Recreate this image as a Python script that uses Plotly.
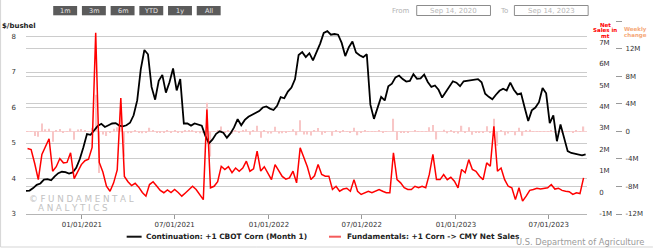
import pandas as pd
import plotly.graph_objects as go

# ---------------- data ----------------
price_dates = pd.date_range("2020-09-14", periods=157, freq="7D")
corn_price = [3.65, 3.66, 3.73, 3.82, 3.86, 3.97, 3.98, 3.95, 4.06, 4.15,
              4.19, 4.18, 4.14, 4.17, 4.30, 4.55, 4.88, 5.25, 5.23, 5.36,
              5.48, 5.54, 5.45, 5.50, 5.55, 5.56, 5.49, 5.47, 5.50, 5.57,
              5.78, 6.20, 7.08, 7.62, 7.50, 6.58, 6.22, 6.75, 6.92, 6.42,
              6.71, 7.10, 6.48, 6.80, 5.55, 5.55, 5.49, 5.55, 5.52, 5.49,
              5.20, 4.99, 5.10, 5.26, 5.33, 5.29, 5.15, 5.27, 5.44, 5.67,
              5.50, 5.65, 5.74, 5.79, 5.85, 5.90, 6.00, 6.03, 5.97, 5.93,
              6.05, 6.29, 6.26, 6.45, 6.56, 6.80, 7.48, 7.56, 7.42, 7.53,
              7.33, 7.55, 7.80, 8.10, 8.15, 8.05, 8.07, 8.05, 7.82, 7.45,
              7.70, 7.86, 7.55, 7.47, 7.42, 7.50, 6.08, 5.68, 5.98, 6.30,
              6.20, 6.60, 6.67, 6.85, 6.90, 6.80, 6.73, 6.75, 6.94, 6.81,
              6.82, 6.93, 6.72, 6.58, 6.62, 6.50, 6.28, 6.44, 6.57, 6.74,
              6.70, 6.60, 6.74, 6.75, 6.78, 6.77, 6.80, 6.71, 6.39, 6.30,
              6.23, 6.36, 6.47, 6.53, 6.48, 6.70, 6.50, 6.37, 6.40, 6.00,
              5.62, 5.92, 6.00, 6.15, 6.55, 6.40, 5.56, 5.78, 5.05, 5.52,
              5.10, 4.77, 4.72, 4.70, 4.67, 4.65, 4.68]

sales_dates = pd.date_range("2020-09-17", periods=156, freq="7D")
net_sales_m = [2.05, 2.0, 1.35, 0.60, 1.77, 2.1, 2.5, 0.99, 1.2, 1.58,
               1.38, 1.40, 1.85, 0.65, 0.95, 1.3, 1.48, 1.55, 2.1, 7.43,
               1.4, 0.95, 0.29, 0.06, 0.45, 1.05, 4.40, 0.75, 0.5, 0.32,
               0.43, 0.25, 0.0, -0.17, 0.37, 0.5, 0.3, 0.1, -0.01, 0.12,
               0.0, 0.14, 0.0, -0.17, -0.02, 0.15, 0.29, 0.14, -0.1, -0.33,
               3.86, 0.22, 0.29, 0.5, 1.22, 1.07, 1.2, 0.92, 1.14, 0.99,
               1.14, 1.46, 0.99, 1.1, 1.92, 1.0, 1.2, 0.9, 0.6, 1.3,
               1.0, 0.75, 0.62, 0.68, 0.99, 0.45, 2.08, 1.65, 1.2, 0.60,
               0.78, 1.30, 0.84, 0.76, 0.76, 0.14, 0.29, 0.06, 0.16, 0.2,
               0.06, 0.60, 0.06, -0.09, -0.01, 0.06, -0.01, 0.06, 0.14, 0.06,
               -0.01, -0.01, 1.85, 0.60, 0.45, 0.22, 0.14, 0.14, 0.29, 0.22,
               0.29, 0.22, 0.84, 1.77, 0.60, 0.60, 0.84, 0.60, 0.71, 0.53,
               0.22, 1.07, 0.92, 1.53, 1.07, 0.99, 0.76, 0.60, 1.38, 1.22,
               3.08, 0.99, 1.14, 0.60, 0.29, 0.22, -0.33, 0.22, -0.40, -0.17,
               0.1, 0.14, 0.2, 0.16, 0.18, 0.22, 0.37, 0.16, 0.2, 0.1,
               0.06, 0.04, -0.09, -0.01, -0.05, 0.68]

weekly_change_m = [-0.05, -0.05, -0.65, -0.75, 1.17, 0.33, 0.4, -1.51, 0.21, 0.38,
                   -0.2, 0.02, 0.45, -1.2, 0.3, 0.35, 0.18, 0.07, 0.55, 5.33,
                   -6.03, -0.45, -0.66, -0.23, 0.39, 0.6, 3.35, -3.65, -0.25, -0.18,
                   0.11, -0.18, -0.25, -0.17, 0.54, 0.13, -0.2, -0.2, -0.11, 0.13,
                   -0.12, 0.14, -0.14, -0.17, 0.15, 0.17, 0.14, -0.15, -0.24, -0.23,
                   4.19, -3.64, 0.07, 0.21, 0.72, -0.15, 0.13, -0.28, 0.22, -0.15,
                   0.15, 0.32, -0.47, 0.11, 0.82, -0.92, 0.2, -0.3, -0.3, 0.7,
                   -0.3, -0.25, -0.13, 0.06, 0.31, -0.54, 1.63, -0.43, -0.45, -0.6,
                   0.18, 0.52, -0.46, -0.08, 0.0, -0.62, 0.15, -0.23, 0.1, 0.04,
                   -0.14, 0.54, -0.54, -0.15, 0.08, 0.07, -0.07, 0.07, 0.08, -0.08,
                   -0.07, 0.0, 1.86, -1.25, -0.15, -0.23, -0.08, 0.0, 0.15, -0.07,
                   0.07, -0.07, 0.62, 0.93, -1.17, 0.0, 0.24, -0.24, 0.11, -0.18,
                   -0.31, 0.85, -0.15, 0.61, -0.46, -0.08, -0.23, -0.16, 0.78, -0.16,
                   1.86, -2.09, 0.15, -0.54, -0.31, -0.07, -0.55, 0.55, -0.62, 0.23,
                   0.27, 0.04, 0.06, -0.04, 0.02, 0.04, 0.15, -0.21, 0.04, -0.1,
                   -0.04, -0.02, -0.13, 0.08, -0.04, 0.73]

x_tick_dates = ["2021-01-01", "2021-07-01", "2022-01-01", "2022-07-01", "2023-01-01", "2023-07-01"]
x_tick_labels = ["01/01/2021", "07/01/2021", "01/01/2022", "07/01/2022", "01/01/2023", "07/01/2023"]
price_ticks = [3, 4, 5, 6, 7, 8]
sales_ticks = [-1, 0, 1, 2, 3, 4, 5, 6, 7]
sales_labels = ["-1M", "0", "1M", "2M", "3M", "4M", "5M", "6M", "7M"]
change_ticks = [-12, -8, -4, 0, 4, 8, 12, 16]
change_labels = ["-12M", "-8M", "-4M", "0", "4M", "8M", "12M", ""]
range_buttons = ["1m", "3m", "6m", "YTD", "1y", "All"]
date_from, date_to = "Sep 14, 2020", "Sep 14, 2023"

# ---------------- layout helpers ----------------
W, H = 655, 248
L, R, T, B = 26, 20, 21, 34
PW, PH = W - L - R, H - T - B
FONT = "DejaVu Sans, Verdana, sans-serif"


def px(x):
    return (x - L) / PW


def py(y):
    return (H - B - y) / PH


fig = go.Figure()
fig.add_trace(go.Bar(x=sales_dates, y=weekly_change_m, yaxis="y", xaxis="x",
                     marker=dict(color="#f8c6c6", line=dict(width=0)),
                     width=2.4 * 86400000, showlegend=False, hoverinfo="skip"))
fig.add_trace(go.Scatter(x=price_dates, y=corn_price, yaxis="y2", mode="lines",
                         line=dict(color="#000000", width=1.8), showlegend=False))
fig.add_trace(go.Scatter(x=sales_dates, y=net_sales_m, yaxis="y3", mode="lines",
                         line=dict(color="#ff0000", width=1.5), showlegend=False))

tick_font = dict(family=FONT, size=7, color="#333333")
fig.update_layout(
    width=W, height=H, margin=dict(l=L, r=R, t=T, b=B),
    paper_bgcolor="white", plot_bgcolor="white",
    font=dict(family=FONT),
    xaxis=dict(type="date", domain=[0, px(589)], range=["2020-09-14", "2023-09-14"],
               tickvals=x_tick_dates, ticktext=x_tick_labels, ticks="outside", ticklen=4,
               tickcolor="#999999", showline=True, linecolor="#b5b5b5", showgrid=False,
               zeroline=False, tickfont=tick_font),
    yaxis=dict(range=[-12, 16.07], tickvals=change_ticks, ticktext=change_labels,
               side="right", anchor="free", position=px(617), ticks="outside", ticklen=6,
               tickcolor="#999999", showgrid=True, gridcolor="#cccccc", gridwidth=1,
               zeroline=True, zerolinecolor="#f6d3d3", zerolinewidth=1, showline=False,
               tickfont=tick_font, ticklabelstandoff=2),
    yaxis2=dict(overlaying="y", side="left", anchor="x", range=[3, 8.437],
                tickvals=price_ticks, showgrid=True, gridcolor="#cccccc", zeroline=False,
                ticks="", tickfont=tick_font, ticklabelstandoff=9),
    yaxis3=dict(overlaying="y", side="right", anchor="x", range=[-1, 7.98],
                tickvals=sales_ticks, ticktext=sales_labels, showgrid=False, zeroline=False,
                ticks="", tickfont=tick_font, ticklabelstandoff=11),
)

shapes = []
ann = []


def text(x, y, s, size=7, color="#333333", xanchor="center", bold=False, family=FONT):
    ann.append(dict(x=px(x), y=py(y), xref="paper", yref="paper", text=("<b>%s</b>" % s) if bold else s,
                    showarrow=False, xanchor=xanchor, yanchor="middle", borderpad=0,
                    font=dict(family=family, size=size, color=color)))


# range selector buttons
for i, lab in enumerate(range_buttons):
    x0 = 53.3 + i * 28.8
    shapes.append(dict(type="rect", xref="paper", yref="paper", x0=px(x0), x1=px(x0 + 24),
                       y0=py(15.3), y1=py(6), fillcolor="#5b5b5b", line=dict(width=0)))
    text(x0 + 12, 10.6, lab, size=6.5, color="#e6e6e6")

# From / To boxes
text(402, 10.5, "From", size=7, color="#b3b3b3")
text(506, 10.5, "To", size=7, color="#b3b3b3")
for x0, lab in [(418, date_from), (516, date_to)]:
    shapes.append(dict(type="rect", xref="paper", yref="paper", x0=px(x0), x1=px(x0 + 74),
                       y0=py(15.5), y1=py(5.5), fillcolor="white",
                       line=dict(color="#8c8c8c", width=1)))
    text(x0 + 37, 10.5, lab, size=7, color="#b8b8b8")

# axis titles
text(1, 26, "$/bushel", size=7, color="#222222", xanchor="left", bold=True)
text(607, 24.6, "Net", size=5.5, color="#ff0000", bold=True)
text(607, 30.2, "Sales in", size=5.5, color="#ff0000", bold=True)
text(607, 35.6, "mt", size=5.5, color="#ff0000", bold=True)
text(638, 29.8, "Weekly", size=5.5, color="#f5a878", bold=True)
text(638, 35.4, "change", size=5.5, color="#f5a878", bold=True)

# watermark
ts = "\u2009\u200a"
text(28, 198.8, ts.join("©FUNDAMENTAL"), size=8.8, color="#c2c2c2", xanchor="left")
text(37, 208.2, ts.join("ANALYTICS"), size=8.8, color="#c2c2c2", xanchor="left")

# legend
shapes.append(dict(type="line", xref="paper", yref="paper", x0=px(127), x1=px(142),
                   y0=py(236.7), y1=py(236.7), line=dict(color="#111111", width=2)))
text(145, 236.7, "Continuation: +1 CBOT Corn (Month 1)", size=7.4, color="#222222",
     xanchor="left", bold=True)
shapes.append(dict(type="line", xref="paper", yref="paper", x0=px(330), x1=px(342),
                   y0=py(236.7), y1=py(236.7), line=dict(color="#f45b5b", width=2)))
text(347, 236.7, "Fundamentals: +1 Corn -> CMY Net Sales", size=7.4, color="#222222",
     xanchor="left", bold=True)

# source
text(647, 242.3, "U.S. Department of Agriculture", size=8.3, color="#9a9a9a", xanchor="right")

# frame
shapes.append(dict(type="line", xref="paper", yref="paper", x0=px(0.5), x1=px(0.5),
                   y0=py(0), y1=py(247), line=dict(color="#d5d5d5", width=1)))
shapes.append(dict(type="line", xref="paper", yref="paper", x0=px(0.5), x1=px(655),
                   y0=py(247), y1=py(247), line=dict(color="#d5d5d5", width=1)))

fig.update_layout(shapes=shapes, annotations=ann)
fig.write_html("out.html")
